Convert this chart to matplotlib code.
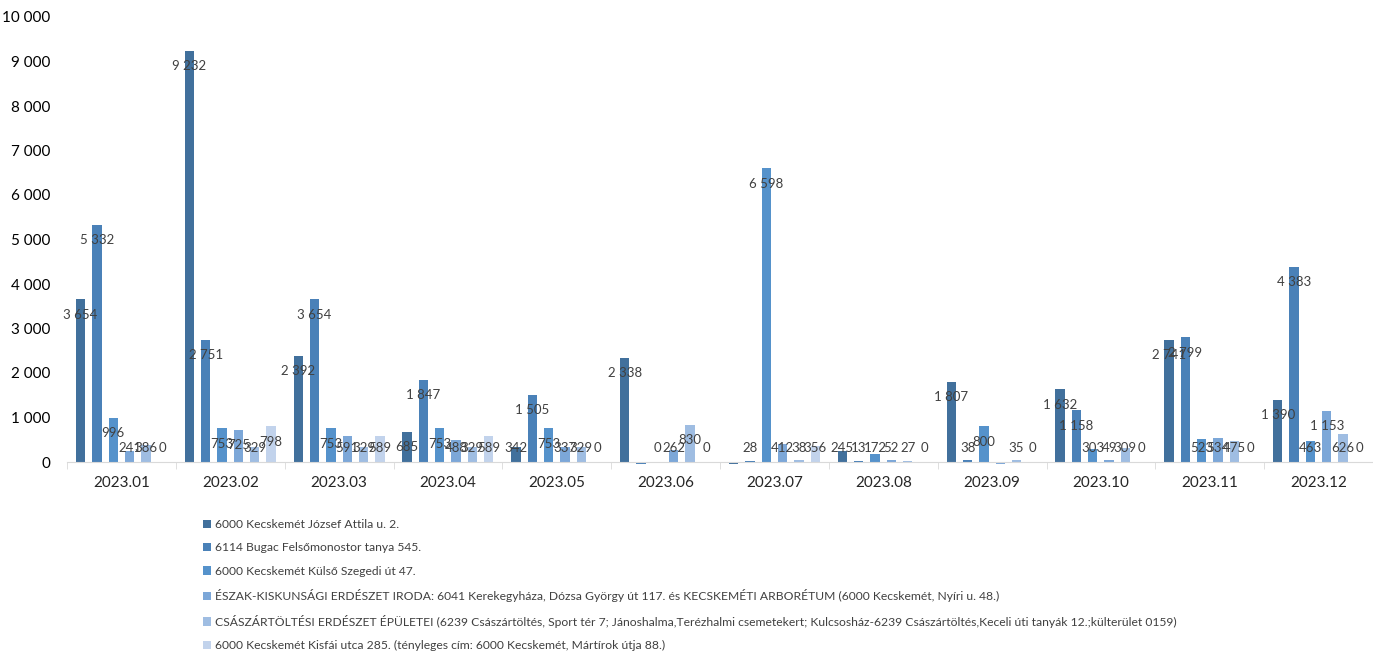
import matplotlib
matplotlib.use("Agg")
import matplotlib.pyplot as plt
import numpy as np

months = ["2023.01", "2023.02", "2023.03", "2023.04", "2023.05", "2023.06",
          "2023.07", "2023.08", "2023.09", "2023.10", "2023.11", "2023.12"]

series_names = [
    "6000 Kecskemét József Attila u. 2.",
    "6114 Bugac Felsőmonostor tanya 545.",
    "6000 Kecskemét Külső Szegedi út 47.",
    "ÉSZAK-KISKUNSÁGI ERDÉSZET IRODA: 6041 Kerekegyháza, Dózsa György út 117. és KECSKEMÉTI ARBORÉTUM (6000 Kecskemét, Nyíri u. 48.)",
    "CSÁSZÁRTÖLTÉSI ERDÉSZET ÉPÜLETEI (6239 Császártöltés, Sport tér 7; Jánoshalma,Terézhalmi csemetekert; Kulcsosház-6239 Császártöltés,Keceli úti tanyák 12.;külterület 0159)",
    "6000 Kecskemét Kisfái utca 285. (tényleges cím: 6000 Kecskemét, Mártírok útja 88.)",
]

s1 = [3654, 9232, 2392, 685, 342, 2338, -45, 245, 1807, 1632, 2741, 1390]
s2 = [5332, 2751, 3654, 1847, 1505, -50, 28, 13, 38, 1158, 2799, 4383]
s3 = [996, 753, 753, 753, 753, 0, 6598, 172, 800, 303, 523, 463]
s4 = [241, 725, 591, 488, 337, 262, 412, 52, -40, 49, 534, 1153]
s5 = [386, 329, 329, 329, 329, 830, 38, 27, 35, 309, 475, 626]
s6 = [0, 798, 589, 589, 0, 0, 356, 0, 0, 0, 0, 0]
series = [s1, s2, s3, s4, s5, s6]

colors = ["#41709C", "#4A81B8", "#5592CB", "#7CA7D8", "#9FBDE2", "#C2D3EC"]

plt.rcParams['font.family'] = ['Lato', 'DejaVu Sans']

fig = plt.figure(figsize=(13.73, 6.52), dpi=100)
ax = fig.add_axes([67 / 1373, 190 / 652, 1306 / 1373, 445 / 652])

x = np.arange(len(months))
step = 0.15
width = 0.085
for i, (vals, col) in enumerate(zip(series, colors)):
    xs = x + (i - 2.5) * step
    ax.bar(xs, vals, width=width, color=col, label=series_names[i], zorder=2,
           clip_on=False)
    for xi, v in zip(xs, vals):
        if v < 0:
            continue
        y = max(v - 340, 310)
        ax.text(xi, y, f"{v:,}".replace(",", " "), ha='center', va='center',
                fontsize=9.5, color='#404040', zorder=3)

ax.set_xlim(-0.5, len(months) - 0.5)
ax.set_ylim(0, 10000)
ax.set_yticks(np.arange(0, 10001, 1000))
ax.set_yticklabels([f"{v:,}".replace(",", " ") for v in range(0, 10001, 1000)])
ax.set_xticks(x)
ax.set_xticklabels(months)
ax.set_xticks(np.arange(-0.5, len(months), 1), minor=True)
ax.tick_params(axis='x', which='major', length=0, labelsize=11, pad=10, colors='#262626')
ax.tick_params(axis='x', which='minor', length=5, color='#D9D9D9')
ax.tick_params(axis='y', length=0, labelsize=11, colors='#000000', pad=12)
for s in ['top', 'right', 'left']:
    ax.spines[s].set_visible(False)
ax.spines['bottom'].set_color('#D9D9D9')
ax.spines['bottom'].set_zorder(3)

fig.legend(loc='upper left', bbox_to_anchor=(203 / 1373, 1 - 519 / 652),
           ncol=1, frameon=False, fontsize=8.7, handlelength=0.7, handleheight=0.7,
           handletextpad=0.3, labelspacing=1.03, borderaxespad=0, borderpad=0,
           labelcolor='#404040')

fig.savefig("out.png", dpi=100)
